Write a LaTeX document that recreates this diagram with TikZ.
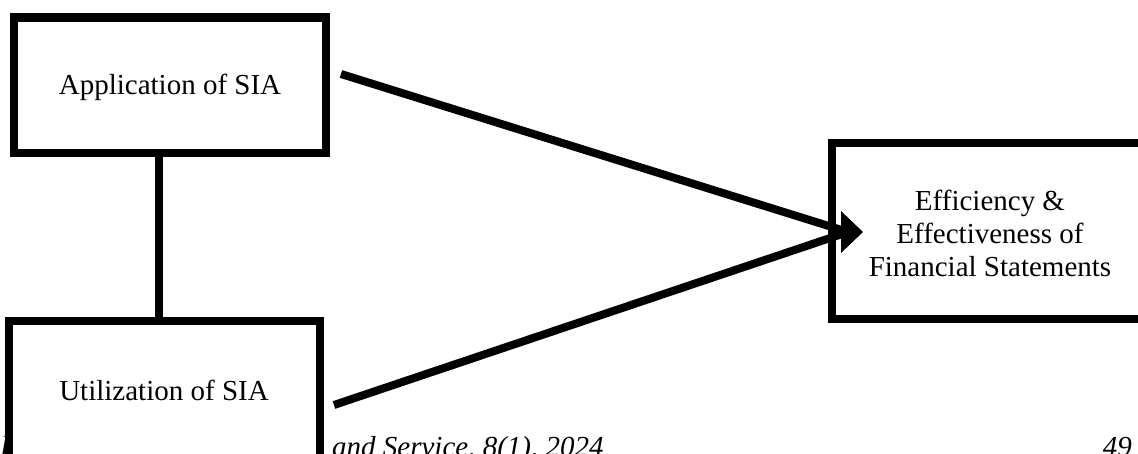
\documentclass[tikz,border=0pt]{standalone}
\usepackage{fontspec}
\setmainfont{Liberation Serif}
\begin{document}
\begin{tikzpicture}[x=1pt,y=-1pt,
  box/.style={draw=black,line width=8.5pt,fill=white,inner sep=0pt},
  lbl/.style={inner sep=0pt,align=center,font=\fontsize{29}{33}\selectfont},
  foot/.style={inner sep=0pt,font=\fontsize{29}{33}\selectfont\itshape},
  conn/.style={draw=black,line width=8pt,line cap=butt}]
\useasboundingbox (0,0) rectangle (1138,453);
% footer (partly hidden behind the lower box)
\node[foot,anchor=base east] (ffrag) at (9,456) {Journal};
\node[foot,anchor=base west] (fmid) at (332,456) {and Service, 8(1), 2024};
\node[foot,anchor=base east] (fpage) at (1132,456) {49};
% boxes
\node[box,minimum width=312pt,minimum height=135.5pt] (app) at (170,85.25) {};
\node[lbl] (apptxt) at (170,87) {Application of SIA};
\node[box,minimum width=311pt,minimum height=169pt] (util) at (164.5,405.5) {};
\node[lbl] (utiltxt) at (164,390) {Utilization of SIA};
\node[box,minimum width=338pt,minimum height=176pt] (eff) at (1001,231) {};
\node[lbl] (efftxt) at (990,233) {Efficiency \&\\Effectiveness of\\Financial Statements};
% connectors
\draw[conn] (app.south -| 159,0) -- (util.north -| 159,0);
\coordinate (m) at (848,232);
\coordinate (s1) at (341,74);
\coordinate (s2) at (334,405);
\draw[conn] (s1) -- (m);
\draw[conn] (s2) -- (m);
\fill[black] (841,211) -- (863,232) -- (841,253) -- cycle;
\end{tikzpicture}
\end{document}
